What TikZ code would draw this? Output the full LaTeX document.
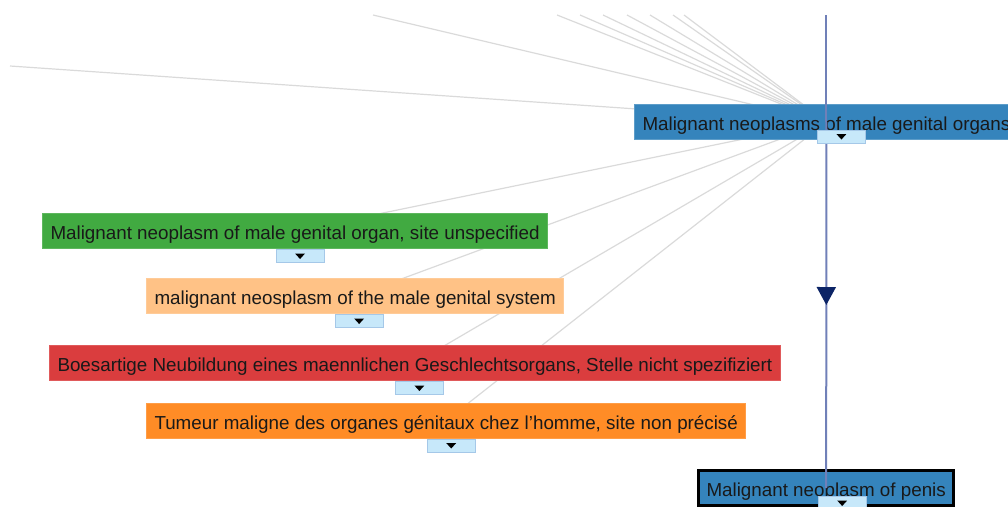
\documentclass[tikz,border=0pt]{standalone}
\usepackage{fontspec}
\setmainfont{Liberation Sans}
\usetikzlibrary{calc,positioning,arrows.meta,decorations.markings,backgrounds}

\definecolor{hubblue}{RGB}{53,132,188}
\definecolor{termgreen}{RGB}{65,170,65}
\definecolor{termpeach}{RGB}{255,194,134}
\definecolor{termred}{RGB}{218,61,62}
\definecolor{termorange}{RGB}{255,140,38}
\definecolor{togfill}{RGB}{199,232,250}
\definecolor{togline}{RGB}{165,200,232}
\definecolor{linkgray}{RGB}{218,218,218}
\definecolor{linkblue}{RGB}{112,128,184}
\definecolor{arrownavy}{RGB}{12,36,102}

\tikzset{
  term/.style={rectangle,anchor=west,inner xsep=8pt,inner ysep=0pt,minimum height=35pt,
    text height=17.5pt,text depth=0pt,
    text=black!90,font=\fontsize{18.8}{22}\selectfont},
  toggle/.style={rectangle,draw=togline,fill=togfill,line width=1pt,
    minimum width=48pt,minimum height=13pt,inner sep=0pt},
  faint/.style={draw=linkgray,line width=1.2pt},
  link/.style={draw=linkblue,line width=2pt},
}

\begin{document}
\begin{tikzpicture}[x=1pt,y=-1pt]

  \clip (0,0) rectangle (1008,506);

  \node (parent) [term,fill=hubblue,draw=hubblue!80!white,line width=1pt] at (634,122) {Malignant neoplasms of male genital organs};
  \node (green) [term,fill=termgreen,draw=termgreen!85!white,line width=1pt] at (42,231) {Malignant neoplasm of male genital organ, site unspecified};
  \node (peach) [term,fill=termpeach,draw=termpeach!85!white,line width=1pt] at (146,296) {malignant neosplasm of the male genital system};
  \node (red) [term,fill=termred,draw=termred!85!white,line width=1pt] at (49,363) {Boesartige Neubildung eines maennlichen Geschlechtsorgans, Stelle nicht spezifiziert};
  \node (orange) [term,fill=termorange,draw=termorange!85!white,line width=1pt] at (146,420.5) {Tumeur maligne des organes g\'enitaux chez l'homme, site non pr\'ecis\'e};
  \node (penis) [term,fill=hubblue,draw=black,line width=3pt] at (697,488) {Malignant neoplasm of penis};

  % links that leave the view
  \coordinate (far_0) at (10,66);
  \coordinate (far_1) at (373,15);
  \coordinate (far_2) at (557,15);
  \coordinate (far_3) at (580,15);
  \coordinate (far_4) at (603,15);
  \coordinate (far_5) at (627,15);
  \coordinate (far_6) at (650,15);
  \coordinate (far_7) at (673,15);
  \coordinate (far_8) at (684,15);
  \coordinate (grand) at (parent.center |- {(0,15)});

  \begin{scope}[on background layer]
    \foreach \n in {0,...,8}
      \draw[faint] (parent.center) -- (far_\n);
    \foreach \t in {green,peach,red,orange}
      \draw[faint] (parent.center) -- (\t.center);
  \end{scope}

  \draw[link] (grand) -- (parent.center);
  \draw[link,postaction={decorate},decoration={markings,
      mark=at position 0.5 with {\arrow[arrownavy]{Triangle[length=18pt,width=19pt]}}}]
    (parent.center) -- (penis.center);

  \node (tog_parent) [toggle] at ($(parent.south)+(15,-3.5)$) {};
  \node (tog_green) [toggle,below=0pt of green,xshift=5pt] {};
  \node (tog_peach) [toggle,below=0pt of peach,xshift=4pt] {};
  \node (tog_red) [toggle,below=0pt of red,xshift=4.5pt] {};
  \node (tog_orange) [toggle,below=0pt of orange,xshift=5pt] {};
  \node (tog_penis) [toggle] at ($(penis.south)+(16,-4)$) {};

  \foreach \t in {parent,green,peach,red,orange,penis}
    \fill[black] ($(tog_\t.center)+(-5,-2.5)$) -- ++(10,0) -- ++(-5,5.5) -- cycle;

\end{tikzpicture}
\end{document}
